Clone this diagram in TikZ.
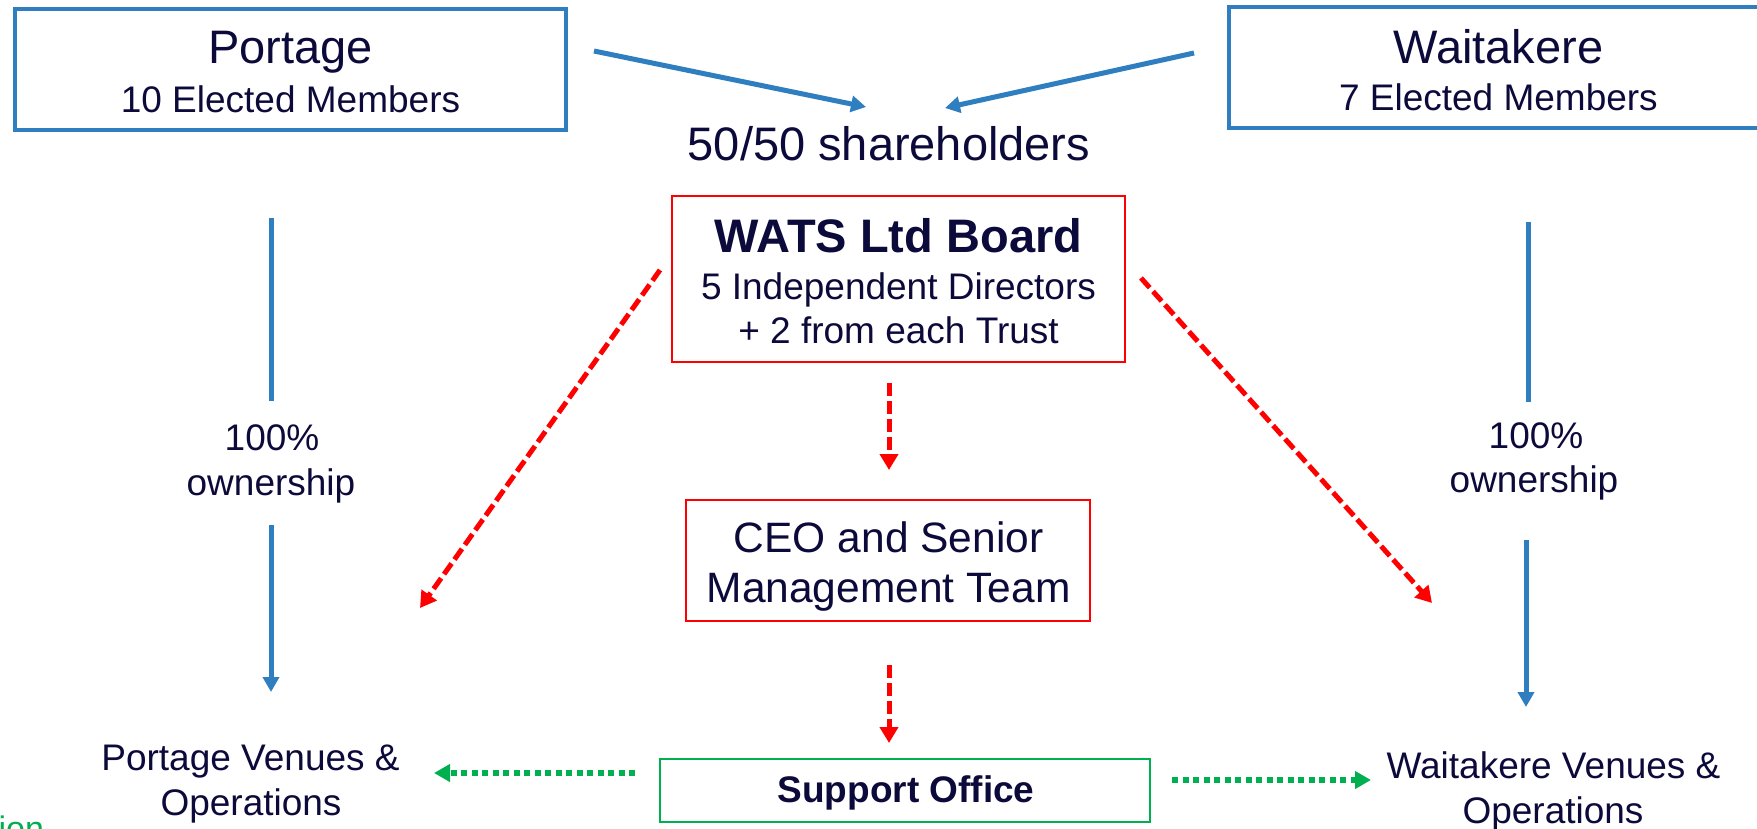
\documentclass[tikz,border=0pt]{standalone}
\usepackage{fontspec}
\setmainfont{Liberation Sans}
\usetikzlibrary{arrows.meta}
\definecolor{navy}{RGB}{12,10,58}
\definecolor{cblue}{RGB}{46,126,192}
\definecolor{cgreen}{RGB}{0,176,80}
\definecolor{cred}{RGB}{255,0,0}
\begin{document}
\begin{tikzpicture}[x=1pt,y=-1pt,
  every node/.style={inner sep=0pt, outer sep=0pt, text=navy},
  bluebox/.style={draw=cblue, line width=4.5pt, rectangle},
  redbox/.style={draw=cred, line width=2.5pt, rectangle},
  greenbox/.style={draw=cgreen, line width=2.5pt, rectangle},
  big/.style={font=\fontsize{47}{56}\selectfont, anchor=base},
  bigbold/.style={font=\fontsize{47}{56}\selectfont\bfseries, anchor=base},
  ceotext/.style={font=\fontsize{42.5}{50}\selectfont, anchor=base},
  small/.style={font=\fontsize{37}{44}\selectfont, anchor=base},
  smallbold/.style={font=\fontsize{37}{44}\selectfont\bfseries, anchor=base},
  bluearrow/.style={draw=cblue, line width=5pt, -{Triangle[length=15pt,width=16pt]}},
  blueline/.style={draw=cblue, line width=5pt},
  redarrow/.style={draw=cred, line width=5pt, dash pattern=on 13pt off 5pt, -{Triangle[length=16pt,width=18pt]}},
  greenarrow/.style={draw=cgreen, line width=5.5pt, dash pattern=on 6pt off 4.5pt, -{Triangle[length=16pt,width=17pt]}},
]
\useasboundingbox (0,0) rectangle (1757,828);

% boxes
\node[bluebox, minimum width=550.6pt, minimum height=120.6pt] (portage) at (290.5,69.5) {};
\node[bluebox, minimum width=539pt, minimum height=120.6pt] (waitakere) at (1498.4,67.5) {};
\node[redbox, minimum width=453pt, minimum height=166pt] (wats) at (898.5,279) {};
\node[redbox, minimum width=404pt, minimum height=121pt] (ceo) at (888,560.5) {};
\node[greenbox, minimum width=490pt, minimum height=63pt] (support) at (905,790.5) {};

% texts
\node[big] (portageT) at (290.5,63) {Portage};
\node[small] (portageM) at (290.5,112) {10 Elected Members};
\node[big] (waitakereT) at (1498.4,63) {Waitakere};
\node[small] (waitakereM) at (1498.4,110) {7 Elected Members};
\node[big] (share) at (889,160) {50/50 shareholders};
\node[bigbold] (watsT) at (898.5,252) {WATS Ltd Board};
\node[small] (watsA) at (898.5,299) {5 Independent Directors};
\node[small] (watsB) at (898.5,343) {+ 2 from each Trust};
\node[ceotext] (ceoA) at (888.6,552) {CEO and Senior};
\node[ceotext] (ceoB) at (888.6,602) {Management Team};
\node[smallbold] (supportT) at (906,802) {Support Office};
\node[small] (pvA) at (250.5,770) {Portage Venues \&};
\node[small] (pvB) at (251,815) {Operations};
\node[small] (wvA) at (1553.5,778) {Waitakere Venues \&};
\node[small] (wvB) at (1553,823) {Operations};
\node[small] (ownLA) at (272,450) {100\%};
\node[small] (ownLB) at (271,495) {ownership};
\node[small] (ownRA) at (1536,448) {100\%};
\node[small] (ownRB) at (1534,492) {ownership};
\node[font=\fontsize{34}{40}\selectfont, text=cgreen, anchor=base east] (ion) at (44,840) {ion};

% connector end points
\coordinate (tlS) at (594,51);
\coordinate (tlE) at (866,107);
\coordinate (trS) at (1194,53);
\coordinate (trE) at (945,108);
\coordinate (plS) at (271,218);
\coordinate (plE) at (271,401);
\coordinate (paS) at (271,525);
\coordinate (paE) at (271,692);
\coordinate (wlS) at (1528,222);
\coordinate (wlE) at (1528,402);
\coordinate (waS) at (1526,540);
\coordinate (waE) at (1526,707);
\coordinate (rlS) at (660,270);
\coordinate (rlE) at (420,608);
\coordinate (rrS) at (1141,278);
\coordinate (rrE) at (1432,603);
\coordinate (rcS) at (889,383);
\coordinate (rcE) at (889,470);
\coordinate (rdS) at (889,665);
\coordinate (rdE) at (889,743);
\coordinate (glS) at (635,773);
\coordinate (glE) at (434,773);
\coordinate (grS) at (1172,780);
\coordinate (grE) at (1371,780);

% connectors
\draw[bluearrow] (tlS) -- (tlE);
\draw[bluearrow] (trS) -- (trE);
\draw[blueline] (plS) -- (plE);
\draw[bluearrow] (paS) -- (paE);
\draw[blueline] (wlS) -- (wlE);
\draw[bluearrow] (waS) -- (waE);
\draw[redarrow] (rlS) -- (rlE);
\draw[redarrow] (rrS) -- (rrE);
\draw[redarrow] (rcS) -- (rcE);
\draw[redarrow] (rdS) -- (rdE);
\draw[greenarrow] (glS) -- (glE);
\draw[greenarrow] (grS) -- (grE);
\end{tikzpicture}
\end{document}
